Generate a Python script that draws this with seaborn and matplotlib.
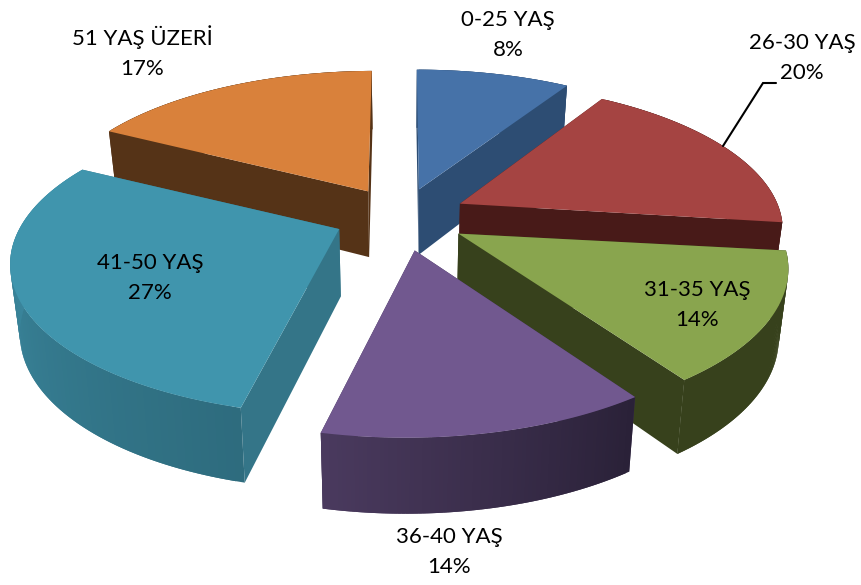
# --- Imports ---
import numpy as np
import seaborn as sns
import matplotlib.pyplot as plt
from matplotlib.colors import to_rgb

# --- Chart data ---
categories = ['0-25 YAŞ', '26-30 YAŞ', '31-35 YAŞ', '36-40 YAŞ', '41-50 YAŞ', '51 YAŞ ÜZERİ']
shares = [8, 20, 14, 14, 27, 17]

# --- Look of the slices ---
top_colors = ['#4672A8', '#A54442', '#89A54E', '#71588F', '#4095AD', '#D9813B']
cut_colors = ['#2D4D73', '#481A18', '#37411C', '#3F3255', '#347588', '#553317']
# outer wall colour at its first and last angle (clockwise)
wall_start = ['#2D4D73', '#481A18', '#37411C', '#2A2138', '#2E6C7E', '#553317']
wall_end = ['#2D4D73', '#481A18', '#37411C', '#4A3A5E', '#3F90A8', '#553317']
explode = [0.20, 0.20, 0.20, 0.22, 0.20, 0.20]
# rim radius at the first and last angle of each slice
radius_start = [1.0, 0.975, 0.96, 1.0, 1.02, 0.985]
radius_end = [1.0, 0.975, 1.0, 1.0, 0.93, 1.0]
# Excel's perspective skews the edges, in degrees per slice boundary
edge_skew = [0, 3.2, -4.3, -5.2, -9.6, 1.2, 0]
trim_start = [0, 0, 0, -1.5, 0, -2]
trim_end = [0, 1, 0, 0, -3, 0]
# small pixel corrections for the whole slice and for its tip
slice_shift = [(3, 2), (1, 1), (4, 1), (0, 0), (0, 4), (0, 1)]
tip_shift = [(0, 0), (0, 0), (0, 0), (10, 2), (2, 0), (1, 0)]
label_pos = [(508, 35), (802, 58), (697, 305), (449, 552), (150, 278), (142, 52)]

# --- Projection of the pie ---
CX, CY = 400, 215
A, B = 330, 147
PERSP = 0.16
DEPTH = 67


def project(px, py, down=0.0):
    w = 1 + PERSP * py
    x = CX + A * px / w * (1 - 0.025 * down)
    y = CY - B * py / w + down * DEPTH * (1 - 0.11 * py)
    return np.array([x, y])


def blend(c1, c2, t):
    c1, c2 = np.array(to_rgb(c1)), np.array(to_rgb(c2))
    return tuple(c1 + (c2 - c1) * t)


sns.set_theme(style='white')
plt.rcParams['font.family'] = ['Lato', 'DejaVu Sans']

fig, ax = plt.subplots(figsize=(8.61, 5.85), dpi=100)
fig.subplots_adjust(0, 0, 1, 1)
ax.set_xlim(0, 861)
ax.set_ylim(585, 0)
ax.axis('off')

edges = np.concatenate([[0], np.cumsum(shares)]) * 3.6 + np.array(edge_skew)

# Back slices first, so the front ones cover them
for i in [5, 0, 1, 4, 2, 3]:
    t0, t1 = edges[i] + trim_start[i], edges[i + 1] + trim_end[i]
    mid = np.radians((np.cumsum([0] + shares)[i] + shares[i] / 2) * 3.6)
    ox, oy = explode[i] * np.sin(mid), explode[i] * np.cos(mid)
    th = np.radians(np.linspace(t0, t1, 80))
    r = np.linspace(radius_start[i], radius_end[i], 80)
    shift = np.array(slice_shift[i])
    rim_top = [project(ox + a * np.sin(b), oy + a * np.cos(b)) + shift for a, b in zip(r, th)]
    rim_low = [project(ox + a * np.sin(b), oy + a * np.cos(b), 1) + shift for a, b in zip(r, th)]
    tip_top = project(ox, oy) + shift + np.array(tip_shift[i])
    tip_low = project(ox, oy, 1) + shift + np.array(tip_shift[i])

    # cut faces
    for k in [0, -1]:
        p = [tip_top, rim_top[k], rim_low[k], tip_low]
        ax.fill(*zip(*p), color=cut_colors[i], lw=0)

    # outer wall, strips overlap by one step so no seams show
    for k in range(len(th) - 1):
        k2 = min(k + 2, len(th) - 1)
        p = [rim_top[k], rim_top[k2], rim_low[k2], rim_low[k]]
        ax.fill(*zip(*p), color=blend(wall_start[i], wall_end[i], k / (len(th) - 2)), lw=0)

    # top face
    ax.fill(*zip(*([tip_top] + rim_top)), color=top_colors[i], lw=0)

# Leader line of the 26-30 label
ax.plot([776, 763, 723], [83, 83, 146], color='black', lw=1.5, solid_joinstyle='miter')

for name, share, (lx, ly) in zip(categories, shares, label_pos):
    ax.text(lx, ly, f'{name}\n{share}%', ha='center', va='center', fontsize=16,
            color='black', linespacing=1.65)

plt.savefig('out.png', dpi=100)
